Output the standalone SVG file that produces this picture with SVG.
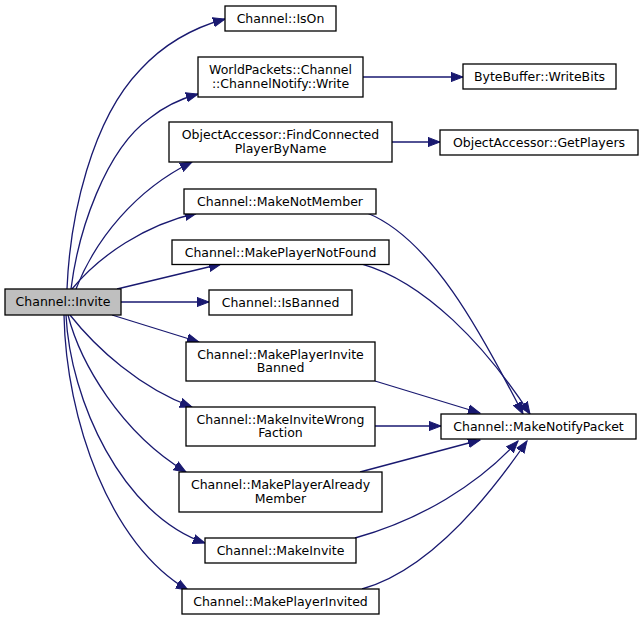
<svg xmlns="http://www.w3.org/2000/svg" width="644" height="620" viewBox="0 0 644 620">
<defs>
<style>
.n rect{fill:#ffffff;stroke:#000000;stroke-width:1.3}
.n.hl rect{fill:#bfbfbf}
.n text{font-family:"DejaVu Sans","Liberation Sans",sans-serif;font-size:12.5px;fill:#000000;text-anchor:middle}
.e path{fill:none;stroke:#191970;stroke-width:1.3}
</style>
<marker id="ah" markerUnits="userSpaceOnUse" markerWidth="14" markerHeight="12" viewBox="0 -6 14 12" refX="12" refY="0" orient="auto">
<path d="M0,-4.6 L12,0 L0,4.6 z" fill="#191970" stroke="#191970" stroke-width="1"/>
</marker>
</defs>
<rect width="644" height="620" fill="#ffffff"/>
<g id="edges" class="e">
<path marker-end="url(#ah)" d="M67,289 C70,215 92,120 140,70 C162,46 192,28 225,19"/>
<path marker-end="url(#ah)" d="M71,289 C78,232 105,150 150,118 C165,106 180,99 198,94"/>
<path marker-end="url(#ah)" d="M76,289 C95,240 135,190 192,162"/>
<path marker-end="url(#ah)" d="M72,289 C100,255 145,225 197,213"/>
<path marker-end="url(#ah)" d="M117,289 L221,264"/>
<path marker-end="url(#ah)" d="M121,302 L209,302"/>
<path marker-end="url(#ah)" d="M112,315 L199,342"/>
<path marker-end="url(#ah)" d="M70,315 C96,348 140,388 192,407"/>
<path marker-end="url(#ah)" d="M68,315 C80,362 120,432 186,472"/>
<path marker-end="url(#ah)" d="M66,315 C70,400 122,515 205,543"/>
<path marker-end="url(#ah)" d="M64,315 C66,420 110,545 188,590"/>
<path marker-end="url(#ah)" d="M363,77 L463,77"/>
<path marker-end="url(#ah)" d="M392,142 L440,142"/>
<path marker-end="url(#ah)" d="M367,213 C430,238 480,330 523,414"/>
<path marker-end="url(#ah)" d="M362,264 C425,282 485,345 530,414"/>
<path marker-end="url(#ah)" d="M375,381 L480,413"/>
<path marker-end="url(#ah)" d="M375,426 L441,426"/>
<path marker-end="url(#ah)" d="M360,472 L480,440"/>
<path marker-end="url(#ah)" d="M355,538 C420,520 478,485 518,441"/>
<path marker-end="url(#ah)" d="M362,589 C430,570 490,495 527,441"/>
</g>
<g id="node-invite" class="n hl"><rect x="5" y="289" width="116" height="26"/><text x="63" y="306">Channel::Invite</text></g>
<g id="node-ison" class="n"><rect x="225" y="6" width="111" height="25"/><text x="280.5" y="22.5">Channel::IsOn</text></g>
<g id="node-write" class="n"><rect x="198" y="57" width="165" height="40"/><text x="280.5" y="74">WorldPackets::Channel</text><text x="280.5" y="87.8">::ChannelNotify::Write</text></g>
<g id="node-findconnected" class="n"><rect x="169" y="122" width="223" height="40"/><text x="280.5" y="139">ObjectAccessor::FindConnected</text><text x="280.5" y="152.8">PlayerByName</text></g>
<g id="node-makenotmember" class="n"><rect x="184" y="189" width="192" height="25"/><text x="280" y="205.5">Channel::MakeNotMember</text></g>
<g id="node-makeplayernotfound" class="n"><rect x="172" y="240" width="217" height="24.5"/><text x="280.5" y="256.5">Channel::MakePlayerNotFound</text></g>
<g id="node-isbanned" class="n"><rect x="209" y="290" width="143" height="25"/><text x="280.5" y="306.5">Channel::IsBanned</text></g>
<g id="node-makeplayerinvitebanned" class="n"><rect x="186" y="342" width="189" height="39"/><text x="280.5" y="358.5">Channel::MakePlayerInvite</text><text x="280.5" y="372.3">Banned</text></g>
<g id="node-makeinvitewrongfaction" class="n"><rect x="186" y="407" width="189" height="39"/><text x="280.5" y="423.5">Channel::MakeInviteWrong</text><text x="280.5" y="437.3">Faction</text></g>
<g id="node-makeplayeralreadymember" class="n"><rect x="179" y="472" width="203" height="40"/><text x="280.5" y="489">Channel::MakePlayerAlready</text><text x="280.5" y="502.8">Member</text></g>
<g id="node-makeinvite" class="n"><rect x="205" y="538" width="151" height="25"/><text x="280.5" y="554.5">Channel::MakeInvite</text></g>
<g id="node-makeplayerinvited" class="n"><rect x="182" y="589" width="197" height="25"/><text x="280.5" y="605.5">Channel::MakePlayerInvited</text></g>
<g id="node-writebits" class="n"><rect x="463" y="64" width="153" height="25"/><text x="539.5" y="80.5">ByteBuffer::WriteBits</text></g>
<g id="node-getplayers" class="n"><rect x="440" y="130" width="198" height="25"/><text x="539" y="146.5">ObjectAccessor::GetPlayers</text></g>
<g id="node-makenotifypacket" class="n"><rect x="441" y="414" width="195" height="25"/><text x="538.5" y="430.5">Channel::MakeNotifyPacket</text></g>
</svg>
